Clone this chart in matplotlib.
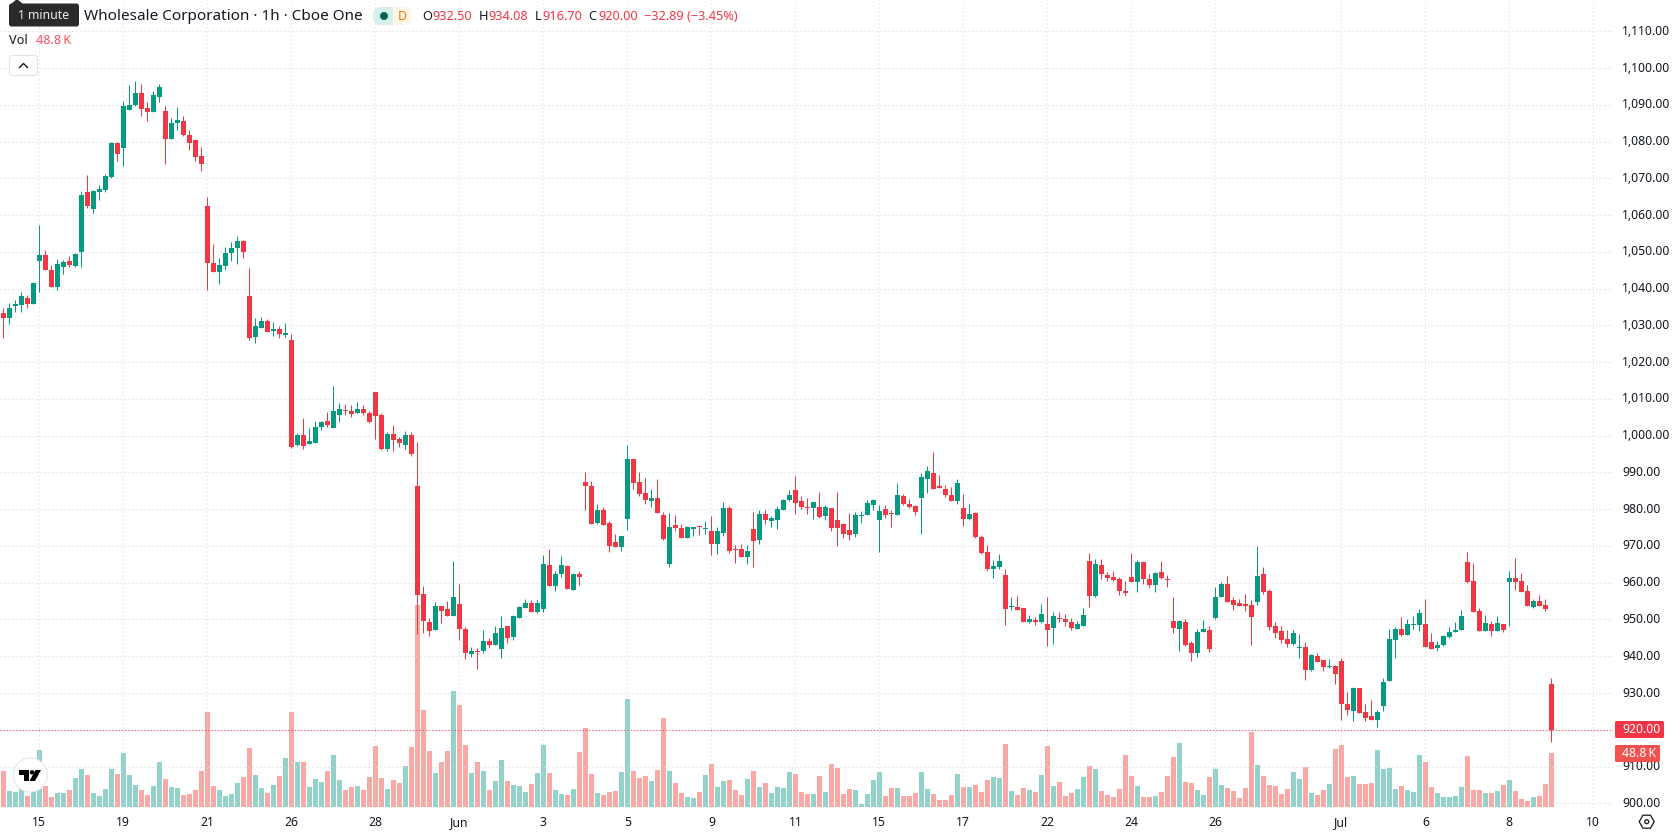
import numpy as np
import matplotlib
matplotlib.use('Agg')
import matplotlib.pyplot as plt
from matplotlib.patches import Circle, FancyBboxPatch, Polygon, Rectangle, RegularPolygon
from matplotlib.transforms import ScaledTranslation

plt.rcParams['font.family'] = ['Noto Sans', 'DejaVu Sans']

opens = [
    1033.4, 1032.0, 1035.3, 1035.5, 1037.5, 1035.8, 1047.5, 1049.1, 1045.1, 1040.4,
    1045.9, 1047.5, 1046.2, 1050.0, 1066.3, 1061.7, 1066.3, 1066.8, 1070.4, 1079.6,
    1078.2, 1088.6, 1089.9, 1093.2, 1089.1, 1088.0, 1092.1, 1088.3, 1080.7, 1085.0,
    1085.6, 1081.8, 1080.4, 1076.1, 1062.5, 1047.0, 1044.5, 1046.2, 1049.7, 1051.0,
    1053.0, 1038.0, 1026.8, 1029.3, 1031.2, 1028.5, 1029.0, 1027.4,
    1026.1, 997.5, 1000.2, 997.8, 998.0, 1002.4, 1004.0, 1002.1, 1005.7, 1007.0, 1006.7, 1006.2,
    1007.3, 1006.2, 1011.9, 1005.7, 996.4, 1000.5, 999.1, 997.5, 1000.2, 986.3,
    957.0, 949.3, 947.2, 953.7, 952.9, 951.0, 954.2, 947.4, 940.7, 941.5,
    941.5, 944.2, 943.1, 942.0, 948.3, 945.3, 950.4, 953.2, 954.5, 952.1,
    952.9, 964.9, 959.1, 962.4, 964.6, 958.0, 962.4, 987.4, 986.3, 976.3,
    979.8, 976.3, 971.1,
    969.7, 977.4, 993.7, 987.4, 984.4, 982.3, 983.1,
    978.4, 965.1, 975.7, 974.9, 972.2, 974.6, 975.5, 974.6, 974.1, 970.5,
    973.5, 980.3, 969.2, 969.2, 967.0, 974.6, 971.6, 978.7, 976.8, 977.1,
    979.8, 982.5, 985.2, 982.3, 980.6, 980.3, 980.6, 978.2, 980.3, 977.1,
    976.0, 974.4, 973.3, 978.2, 978.4, 981.2, 977.1, 980.1, 979.0, 978.4,
    983.6, 981.4, 980.9, 983.1, 988.2, 989.9, 986.3, 985.5, 983.9, 982.3,
    980.3, 977.4, 979.0, 972.5, 968.4, 963.7, 964.3, 962.1, 953.4, 953.4,
    953.1, 949.3, 949.9, 949.3, 948.8, 947.7, 950.4, 950.2, 949.3, 947.4,
    948.2, 965.9, 956.4, 964.8, 962.1, 961.6, 961.0, 957.8, 961.6, 960.2,
    965.6, 961.0, 959.4, 962.9, 961.0, 949.6, 947.4, 949.3, 943.6, 940.9,
    946.6, 947.2, 950.4, 956.1, 959.7, 955.3, 954.5, 954.2, 954.0, 954.8,
    962.4, 957.8, 948.2, 946.9, 944.7, 943.4, 942.2, 942.5, 936.3, 940.1,
    939.0, 937.1, 937.4, 938.7, 927.0, 925.1, 931.4, 924.9, 923.8, 922.7,
    926.5, 933.3, 944.4, 947.4, 945.8, 948.5, 948.5, 948.8, 943.9, 942.2,
    943.1, 945.2, 946.6, 947.2, 965.6, 960.5, 952.3, 946.9, 948.8, 946.9,
    948.8, 960.2, 961.3, 960.5, 957.8, 953.4, 955.0, 954.0, 932.50,
]
highs = [
    1034.6, 1036.0, 1036.9, 1039.1, 1038.3, 1041.7, 1057.3, 1050.5, 1046.4, 1048.0,
    1047.8, 1048.9, 1049.6, 1066.6, 1070.9, 1066.8, 1068.1, 1071.2, 1079.8, 1079.8,
    1091.0, 1095.4, 1096.5, 1095.7, 1090.8, 1093.8, 1095.7, 1089.7, 1086.4, 1089.4,
    1087.0, 1083.1, 1080.7, 1078.5, 1064.9, 1052.1, 1048.3, 1051.3, 1052.7, 1054.3,
    1053.2, 1045.6, 1032.0, 1032.3, 1031.7, 1030.9, 1029.8, 1030.6,
    1027.7, 1000.8, 1004.9, 1002.1, 1004.0, 1004.0, 1006.5, 1013.5, 1008.9, 1008.6, 1008.4, 1009.2,
    1008.4, 1006.7, 1011.9, 1006.2, 1001.0, 1002.9, 999.7, 1001.3, 1001.0, 998.3,
    959.1, 950.4, 954.8, 953.7, 955.1, 966.0, 959.7, 948.0, 942.5, 942.3,
    947.2, 945.0, 948.3, 951.0, 948.3, 951.2, 953.7, 955.6, 955.3, 955.3,
    967.6, 969.2, 963.2, 967.3, 964.9, 962.7, 963.2, 990.2, 987.7, 981.4,
    980.6, 976.8, 973.3,
    972.7, 997.5, 993.7, 990.2, 988.5, 985.5, 988.2,
    979.3, 979.0, 978.4, 976.0, 975.5, 975.2, 975.5, 976.8, 978.2, 975.2,
    982.0, 980.9, 970.3, 970.5, 970.3, 979.3, 979.8, 979.8, 978.2, 980.9,
    982.8, 985.2, 989.0, 983.6, 983.1, 982.0, 984.7, 981.2, 980.3, 984.7,
    976.3, 979.0, 979.3, 979.5, 982.5, 982.8, 981.2, 981.2, 979.8, 987.2,
    984.2, 982.8, 981.2, 989.9, 991.8, 995.6, 989.3, 986.6, 986.0, 988.2,
    984.2, 981.4, 979.3, 973.0, 970.3, 966.2, 967.8, 963.7, 956.1, 956.4,
    953.1, 951.2, 950.7, 954.2, 956.1, 952.0, 952.0, 951.5, 950.4, 949.6,
    953.1, 968.1, 966.5, 966.5, 962.9, 963.2, 961.6, 960.5, 968.1, 966.2,
    965.9, 962.4, 962.9, 965.9, 962.1, 956.1, 949.9, 950.2, 944.2, 947.4,
    949.9, 948.2, 958.9, 960.2, 961.8, 956.1, 955.6, 956.9, 955.3, 970.0,
    964.3, 958.3, 949.3, 948.2, 947.2, 947.2, 946.1, 943.9, 940.6, 940.9,
    939.0, 939.3, 937.6, 939.5, 930.3, 931.6, 931.4, 927.0, 928.1, 925.4,
    934.1, 947.4, 948.0, 950.7, 950.1, 951.0, 952.9, 955.6, 946.3, 944.2,
    945.8, 948.0, 949.3, 952.6, 968.4, 965.4, 953.1, 951.2, 949.6, 951.0,
    948.8, 963.2, 966.7, 962.6, 959.4, 955.6, 956.7, 955.6, 934.08,
]
lows = [
    1026.6, 1030.4, 1033.5, 1033.5, 1034.7, 1035.8, 1039.1, 1045.1, 1040.4, 1039.6,
    1044.0, 1045.9, 1045.9, 1045.9, 1061.9, 1060.6, 1064.1, 1066.3, 1070.2, 1074.7,
    1073.4, 1088.6, 1089.7, 1087.0, 1085.6, 1088.0, 1090.8, 1073.9, 1080.7, 1083.1,
    1081.5, 1077.7, 1074.7, 1072.0, 1039.6, 1044.5, 1041.3, 1045.1, 1047.5, 1046.7,
    1048.3, 1026.0, 1025.2, 1029.3, 1028.2, 1027.1, 1026.6, 1026.8,
    996.7, 997.2, 996.4, 997.8, 998.0, 1001.6, 1002.4, 1002.1, 1003.7, 1005.7, 1005.1, 1006.2,
    1005.7, 1003.5, 999.1, 996.1, 995.9, 995.9, 997.0, 996.4, 994.5, 946.1,
    946.4, 945.5, 947.2, 949.1, 951.0, 951.0, 944.5, 939.3, 939.8, 936.6,
    940.9, 942.3, 943.1, 939.6, 943.6, 944.5, 950.4, 953.2, 952.1, 951.8,
    952.1, 959.1, 957.8, 961.6, 958.3, 958.0, 959.4, 979.8, 976.0, 976.0,
    975.7, 968.4, 969.8,
    968.6, 974.4, 985.5, 983.6, 981.4, 980.6, 979.0,
    971.6, 964.3, 974.1, 972.2, 972.2, 972.7, 973.0, 973.3, 967.6, 967.8,
    972.7, 968.1, 965.4, 967.0, 965.1, 964.3, 970.5, 976.0, 975.2, 974.6,
    979.8, 982.3, 978.7, 980.1, 978.7, 977.4, 977.6, 977.1, 974.1, 970.0,
    972.2, 971.6, 972.5, 976.3, 978.4, 979.8, 968.4, 977.6, 975.2, 978.4,
    981.2, 980.3, 978.4, 973.3, 984.4, 985.5, 985.8, 983.3, 982.3, 981.4,
    975.5, 977.1, 972.2, 967.8, 963.2, 961.3, 963.7, 948.5, 952.6, 952.6,
    949.3, 949.1, 948.5, 949.1, 942.8, 943.3, 949.3, 948.2, 947.2, 947.4,
    948.2, 953.4, 956.1, 961.0, 960.5, 960.5, 956.7, 956.4, 960.2, 957.5,
    959.7, 958.6, 957.5, 961.0, 958.9, 946.3, 941.5, 942.8, 938.8, 939.8,
    946.6, 941.2, 950.2, 956.1, 954.8, 952.6, 953.7, 952.3, 943.1, 954.0,
    956.9, 947.2, 945.0, 943.6, 942.5, 943.1, 939.5, 933.6, 936.0, 938.5,
    936.0, 936.8, 932.5, 922.7, 924.0, 922.4, 924.6, 922.4, 922.7, 920.8,
    925.1, 933.3, 939.5, 945.5, 945.8, 947.4, 946.9, 942.5, 942.0, 941.4,
    942.8, 945.0, 946.6, 947.2, 960.0, 952.1, 946.9, 946.9, 945.5, 946.9,
    946.6, 948.2, 958.0, 957.5, 953.7, 953.1, 953.7, 952.3, 916.70,
]
closes = [
    1032.0, 1034.7, 1035.8, 1038.0, 1035.8, 1041.5, 1049.1, 1045.1, 1040.4, 1046.7,
    1047.2, 1046.4, 1049.4, 1065.5, 1062.5, 1066.6, 1067.1, 1070.6, 1079.6, 1076.6,
    1089.7, 1089.9, 1093.2, 1088.9, 1088.0, 1092.7, 1094.8, 1080.7, 1085.0, 1085.9,
    1081.8, 1079.6, 1075.8, 1073.9, 1047.0, 1044.5, 1046.4, 1049.7, 1051.0, 1053.0,
    1050.0, 1026.6, 1029.8, 1031.2, 1028.2, 1029.0, 1027.7, 1027.9,
    997.0, 1000.2, 997.2, 998.6, 1002.4, 1003.7, 1002.9, 1006.7, 1007.3, 1006.7, 1005.9, 1007.3,
    1006.2, 1003.7, 1005.4, 996.4, 1000.5, 998.8, 998.0, 1000.2, 995.0, 956.7,
    949.6, 946.9, 953.7, 952.3, 951.0, 956.2, 947.4, 940.9, 941.5, 941.2,
    944.2, 943.1, 946.4, 947.7, 945.0, 951.0, 953.4, 954.5, 952.1, 954.5,
    965.1, 959.1, 962.4, 964.9, 958.3, 962.4, 961.6, 986.3, 976.0, 979.8,
    975.7, 970.0, 969.8,
    972.7, 993.7, 987.2, 984.2, 982.5, 983.1, 979.0,
    971.9, 975.2, 974.9, 972.2, 975.2, 975.2, 975.2, 974.9, 970.5, 974.1,
    980.3, 968.6, 968.9, 967.0, 968.6, 971.4, 978.7, 977.1, 977.6, 980.1,
    982.5, 983.9, 981.7, 980.6, 980.3, 982.0, 977.9, 980.6, 974.9, 974.9,
    973.3, 973.0, 978.4, 978.4, 981.7, 982.5, 979.5, 978.4, 978.7, 983.9,
    981.4, 980.6, 979.3, 988.8, 990.4, 985.5, 985.8, 983.9, 982.3, 987.2,
    977.4, 978.7, 972.5, 968.1, 963.7, 964.6, 965.9, 952.9, 953.7, 952.6,
    949.3, 950.2, 949.3, 951.5, 947.2, 951.0, 950.2, 949.3, 947.7, 948.8,
    951.2, 956.4, 965.1, 962.4, 961.3, 960.8, 957.8, 957.2, 960.2, 965.6,
    961.0, 959.4, 962.7, 961.3, 960.8, 947.7, 949.6, 943.1, 940.9, 946.6,
    947.4, 942.0, 956.1, 959.7, 954.8, 954.0, 953.7, 953.7, 950.7, 961.8,
    957.5, 948.0, 946.3, 944.4, 943.4, 946.3, 942.5, 936.3, 940.3, 938.5,
    937.1, 937.4, 935.2, 927.0, 925.4, 931.4, 924.6, 923.2, 922.7, 924.9,
    933.0, 944.7, 947.4, 945.8, 948.8, 948.8, 951.8, 942.5, 942.0, 943.1,
    945.5, 946.6, 947.2, 951.0, 960.2, 952.1, 946.9, 949.1, 946.9, 949.1,
    947.2, 961.3, 960.2, 957.5, 953.7, 955.0, 953.7, 952.9, 920.00,
]
# volume in thousands of shares
volumes = [
    32.4, 14.2, 13.3, 16.1, 9.7, 14.2, 51.5, 18.8, 8.8, 12.4,
    12.4, 15.2, 26.1, 34.2, 28.8, 12.4, 9.7, 16.1, 34.2, 29.7,
    48.8, 28.8, 19.7, 15.2, 10.6, 18.8, 40.6, 25.1, 17.9, 17.0,
    10.6, 11.5, 15.2, 32.4, 86.1, 18.8, 15.2, 9.7, 11.5, 21.5,
    27.0, 53.3, 28.8, 17.0, 12.4, 19.7, 27.9, 44.2, 86.1, 40.6,
    40.6, 17.9, 25.1, 22.4, 32.4, 47.0, 24.2, 15.2, 17.9, 18.8,
    15.2, 27.0, 55.1, 26.1, 16.1, 24.2, 21.5, 37.0, 54.2, 183.0,
    87.9, 50.6, 30.6, 40.6, 50.6, 105.1, 92.4, 56.1, 30.6, 40.6,
    32.4, 15.2, 23.3, 42.4, 23.3, 19.7, 18.8, 13.3, 20.6, 30.6,
    56.1, 30.6, 15.2, 11.5, 10.6, 16.1, 49.7, 71.5, 29.7, 12.4,
    10.6, 13.3, 14.2, 31.5, 97.9, 32.4, 26.1, 27.9, 23.3, 33.3,
    80.6, 32.4, 21.5, 12.4, 8.8, 7.9, 13.3, 28.8, 38.8, 17.9,
    23.3, 24.2, 15.2, 10.6, 25.1, 32.4, 17.9, 21.5, 12.4, 17.9,
    17.0, 31.5, 29.7, 13.3, 11.5, 11.5, 27.9, 13.3, 38.8, 35.1,
    11.5, 16.1, 15.2, 2.4, 11.5, 24.2, 31.5, 9.7, 17.0, 17.0,
    9.7, 9.7, 12.4, 31.5, 16.1, 11.5, 6.1, 6.1, 10.6, 29.7,
    17.9, 17.9, 19.7, 13.3, 24.2, 27.0, 26.1, 57.0, 14.2, 10.6,
    17.0, 15.2, 13.3, 28.8, 55.1, 18.8, 22.4, 9.7, 12.4, 16.1,
    27.0, 37.0, 34.2, 14.2, 10.6, 8.8, 16.1, 47.0, 27.9, 18.8,
    8.8, 8.8, 9.7, 13.3, 27.9, 45.1, 57.9, 22.4, 21.5, 15.2,
    10.6, 27.0, 34.2, 19.7, 17.0, 14.2, 7.9, 17.0, 67.9, 37.9,
    27.9, 19.7, 18.8, 11.5, 16.1, 31.5, 25.1, 36.1, 12.4, 10.6,
    15.2, 20.6, 52.4, 56.1, 27.0, 27.9, 20.6, 20.6, 21.5, 51.5,
    34.2, 35.1, 16.1, 18.8, 15.2, 13.3, 47.0, 40.6, 17.9, 12.4,
    8.8, 8.8, 9.7, 17.9, 46.1, 15.2, 15.2, 12.4, 12.4, 14.2,
    19.7, 24.2, 14.2, 7.0, 5.2, 8.8, 9.7, 20.6, 48.8,
]

date_positions = [6, 20, 34, 48, 62, 76, 90, 104, 118, 132, 146, 160, 174, 188, 202, 223, 237, 251, 265]
date_labels = ['15', '19', '21', '26', '28', 'Jun', '3', '5', '9', '11', '15', '17', '22', '24', '26', 'Jul', '6', '8', '10']
bold_dates = ['Jun', 'Jul']
price_ticks = list(range(900, 1120, 10))
bold_prices = [900, 950, 1000, 1050, 1100]

UP = '#089981'
DOWN = '#F23645'
VOL_UP = '#92D2CA'
VOL_DOWN = '#F8A9A6'
TEXT = '#131722'
W, H = 1678, 835
PANE_W, PANE_H = 1613, 808

o = np.array(opens)
h = np.array(highs)
l = np.array(lows)
c = np.array(closes)
v = np.array(volumes)
x = np.arange(len(c))
rising = c >= o
colors = np.where(rising, UP, DOWN)

fig = plt.figure(figsize=(W / 100, H / 100), dpi=100, facecolor='white')
ax = fig.add_axes([0, (H - PANE_H) / H, PANE_W / W, PANE_H / H])
ax_vol = ax.twinx()
ax.set_zorder(ax_vol.get_zorder() + 1)
ax.patch.set_visible(False)

# bar index 0 sits 3.4 px from the left edge, bars are 6 px apart
ax.set_xlim(-3.4 / 6, (PANE_W - 3.4) / 6)
ax.set_ylim(898.72, 1118.5)
ax_vol.set_ylim(-1.2, 733.4)
ax_vol.set_yticks([])

ax_vol.bar(x, v, width=5 / 6, color=np.where(rising, VOL_UP, VOL_DOWN), linewidth=0)

ax.vlines(x, l, h, colors=colors, linewidth=0.72)
ax.bar(x, np.abs(c - o), bottom=np.minimum(o, c), width=5 / 6, color=colors, linewidth=0)

ax.set_yticks(price_ticks)
ax.set_yticklabels([f'{p:,.2f}' for p in price_ticks])
ax.yaxis.tick_right()
ax.set_xticks(date_positions)
ax.set_xticklabels(date_labels)
ax.tick_params(axis='both', length=0, labelsize=8.8, labelcolor=TEXT)
ax.tick_params(axis='y', pad=6.5)
ax.tick_params(axis='x', pad=5.5)
nudge = ScaledTranslation(0, 1.5 / 100, fig.dpi_scale_trans)
for lab, p in zip(ax.get_yticklabels(), price_ticks):
    lab.set_transform(lab.get_transform() + nudge)
    if p in bold_prices:
        lab.set_fontweight('bold')
for lab in ax.get_xticklabels():
    if lab.get_text() in bold_dates:
        lab.set_fontweight('bold')

ax.grid(True, color='#D2D2D2', linewidth=0.72, linestyle=(0, (1, 3)))
ax.set_axisbelow(True)
for a in (ax, ax_vol):
    for s in a.spines.values():
        s.set_visible(False)

# last close marker line
ax.axhline(c[-1], color=DOWN, linewidth=0.72, linestyle=(0, (1, 2.2)), zorder=1)

# header, tags and logo are laid out in pixels on a full-figure overlay
ui = fig.add_axes([0, 0, 1, 1], zorder=10)
ui.set_xlim(0, W)
ui.set_ylim(H, 0)
ui.axis('off')

ui.text(84, 16, 'Wholesale Corporation · 1h · Cboe One', fontsize=11, color=TEXT, va='center')
ui.add_patch(FancyBboxPatch((9, 3.5), 70, 23, boxstyle='round,pad=0,rounding_size=2.5', fc='#2A2A2A', ec='none'))
ui.add_patch(Polygon([(11, 4), (17, -1), (23, 4)], fc='#2A2A2A', ec='none'))
ui.text(44, 15.5, '1 minute', fontsize=8.8, color='#EDEDED', ha='center', va='center')

ui.add_patch(FancyBboxPatch((373, 7), 39, 18, boxstyle='round,pad=0,rounding_size=8', fc='#FFF5E8', ec='none'))
ui.add_patch(FancyBboxPatch((373, 7), 20, 18, boxstyle='round,pad=0,rounding_size=8', fc='#D5EFEA', ec='none'))
ui.add_patch(Rectangle((385, 7), 8, 18, fc='#D5EFEA', ec='none'))
ui.add_patch(Circle((384, 16), 4, fc='#056656', ec='none'))
ui.text(402, 16, 'D', fontsize=9, color='#F57C00', ha='center', va='center', fontweight='medium')

for xpos, letter, val in [(422, 'O', opens[-1]), (478.5, 'H', highs[-1]), (535, 'L', lows[-1]), (588, 'C', closes[-1])]:
    ui.text(xpos, 16.5, letter, fontsize=9.2, color=TEXT, va='center')
    ui.text(xpos + 10 if letter != 'L' else xpos + 7.5, 16.5, f'{val:.2f}', fontsize=9.2, color=DOWN, va='center')
ui.text(644, 16.5, '\u221232.89 (\u22123.45%)', fontsize=9.2, color=DOWN, va='center')

ui.text(9, 41, 'Vol', fontsize=9.2, color=TEXT, va='center')
ui.text(36.5, 41, '48.8\u2009K', fontsize=9.2, color='#F7525F', va='center')

ui.add_patch(FancyBboxPatch((9.5, 55.5), 28, 20, boxstyle='round,pad=0,rounding_size=3', fc='white', ec='#E0E3EB', lw=0.8))
ui.plot([19.5, 23.5, 27.5], [67.5, 63.5, 67.5], color=TEXT, lw=1.0)

# value tags on the price scale
ui.add_patch(FancyBboxPatch((1615, 721), 49, 17, boxstyle='round,pad=0,rounding_size=1.5', fc=DOWN, ec='none'))
ui.text(1622.5, 729.5, f'{closes[-1]:.2f}', fontsize=8.8, color='white', va='center')
ui.add_patch(FancyBboxPatch((1615, 745), 45, 17, boxstyle='round,pad=0,rounding_size=1.5', fc='#F0524F', ec='none'))
ui.text(1622.5, 753.5, f'{volumes[-1]:.1f}\u2009K', fontsize=8.8, color='white', va='center')

# logo badge over the volume pane
ui.add_patch(Circle((30.3, 775), 17, fc='white', ec='#E6E6E6', lw=0.8))
ui.add_patch(Polygon([(18.5, 770), (29, 770), (29, 781), (24, 781), (24, 775), (18.5, 775)], fc='black', ec='none'))
ui.add_patch(Circle((32, 772.3), 2.2, fc='black', ec='none'))
ui.add_patch(Polygon([(35.5, 770), (41, 770), (35, 781), (29.5, 781)], fc='black', ec='none'))

# scale settings icon
ui.add_patch(RegularPolygon((1646.7, 821.7), 6, radius=7.5, orientation=np.pi / 6, fc='white', ec=TEXT, lw=0.9))
ui.add_patch(Circle((1646.7, 821.7), 2, fc='white', ec=TEXT, lw=0.9))

fig.savefig('out.png', dpi=100)
